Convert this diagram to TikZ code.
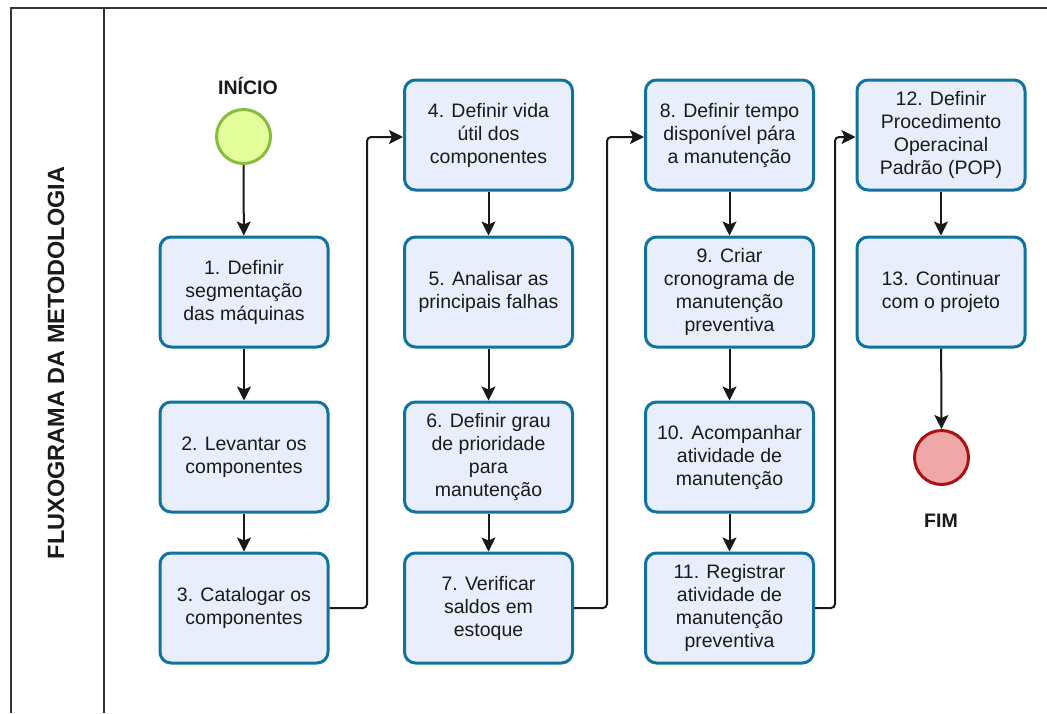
\documentclass[tikz,border=0pt]{standalone}
\usepackage{fontspec}
\setmainfont{Liberation Sans}
\usetikzlibrary{arrows.meta}
\definecolor{boxfill}{HTML}{E9EEFC}
\definecolor{boxline}{HTML}{10739E}
\definecolor{startfill}{HTML}{E4FE9C}
\definecolor{startline}{HTML}{84BE3A}
\definecolor{endfill}{HTML}{F0A7A7}
\definecolor{endline}{HTML}{AA1111}
\definecolor{frameline}{HTML}{333333}
\definecolor{txt}{HTML}{1A1A1A}
\tikzset{
  stepbox/.style={draw=boxline, fill=boxfill, line width=3pt, rounded corners=11pt,
    minimum width=168pt, minimum height=110pt, inner sep=0pt, align=center,
    text=txt, font=\fontsize{19.5}{23}\selectfont},
  event/.style={circle, line width=3pt, minimum size=54pt, inner sep=0pt},
  lbl/.style={font=\fontsize{19.5}{23}\selectfont\bfseries, text=txt},
  conn/.style={line width=2pt, draw=black!90, rounded corners=4pt,
    -{Stealth[length=14pt,width=14pt,inset=3pt]}},
  framel/.style={line width=2pt, draw=frameline}
}
\begin{document}
\begin{tikzpicture}[x=1pt,y=-1pt]
\useasboundingbox (0,0) rectangle (1047,713);
% frame
\draw[framel] (11,713) -- (11,8) -- (1047,8);
\draw[framel] (104,8) -- (104,713);
\node[rotate=90, font=\fontsize{23.5}{28}\selectfont\bfseries, text=txt] (title) at (56,363) {FLUXOGRAMA DA METODOLOGIA};

% start / end
\node[lbl] (inicio) at (248,86) {INÍCIO};
\node[event, draw=startline, fill=startfill] (start) at (243.5,136.5) {};
\node[event, draw=endline, fill=endfill] (end) at (941.5,457.5) {};
\node[lbl] (fim) at (941,521) {FIM};

% column 1
\node[stepbox] (b1) at (244,292) {1. Definir\\segmentação\\das máquinas};
\node[stepbox] (b2) at (244,457) {2. Levantar os\\componentes};
\node[stepbox] (b3) at (244,608) {3. Catalogar os\\componentes};
% column 2
\node[stepbox] (b4) at (488.5,135) {4. Definir vida\\útil dos\\componentes};
\node[stepbox] (b5) at (488.5,292) {5. Analisar as\\principais falhas};
\node[stepbox] (b6) at (488.5,457) {6. Definir grau\\de prioridade\\para\\manutenção};
\node[stepbox] (b7) at (488.5,608) {7. Verificar\\saldos em\\estoque};
% column 3
\node[stepbox] (b8) at (729.5,135) {8. Definir tempo\\disponível pára\\a manutenção};
\node[stepbox] (b9) at (729.5,292) {9. Criar\\cronograma de\\manutenção\\preventiva};
\node[stepbox] (b10) at (729.5,457) {10. Acompanhar\\atividade de\\manutenção};
\node[stepbox] (b11) at (729.5,608) {11. Registrar\\atividade de\\manutenção\\preventiva};
% column 4
\node[stepbox] (b12) at (941,135) {12. Definir\\Procedimento\\Operacinal\\Padrão (POP)};
\node[stepbox] (b13) at (941,292) {13. Continuar\\com o projeto};

% connectors
\draw[conn] (start) -- (b1);
\draw[conn] (b1) -- (b2);
\draw[conn] (b2) -- (b3);
\draw[conn] (b3.east) -- (367,608) -- (367,137) -- (b4.west |- 0,137);
\draw[conn] (b4) -- (b5);
\draw[conn] (b5) -- (b6);
\draw[conn] (b6) -- (b7);
\draw[conn] (b7.east) -- (607,608) -- (607,137) -- (b8.west |- 0,137);
\draw[conn] (b8) -- (b9);
\draw[conn] (b9) -- (b10);
\draw[conn] (b10) -- (b11);
\draw[conn] (b11.east) -- (835,608) -- (835,137) -- (b12.west |- 0,137);
\draw[conn] (b12) -- (b13);
\draw[conn] (b13) -- (end);
\end{tikzpicture}
\end{document}
